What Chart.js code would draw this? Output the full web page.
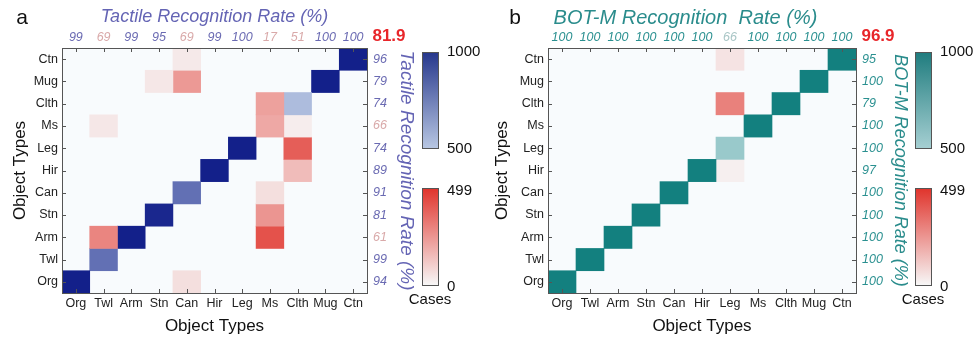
<!DOCTYPE html>
<html><head><meta charset="utf-8">
<script src="https://cdn.jsdelivr.net/npm/chart.js@4"></script>
<style>
body{margin:0;background:#fff;width:976px;height:339px;overflow:hidden;position:relative}
canvas{position:absolute;top:0}
#c1{left:0}#c2{left:486px}
</style></head><body>
<canvas id="c1" width="488" height="339"></canvas>
<canvas id="c2" width="490" height="339"></canvas>
<script>
// categories (bottom -> top on the y axis, left -> right on the x axis)
const objectTypes = ['Org','Twl','Arm','Stn','Can','Hir','Leg','Ms','Clth','Mug','Ctn'];
// per-row (right axis) and per-column (top axis) recognition rates
const tactileRowRates = [94,99,61,81,91,89,74,66,74,79,96];
const tactileColRates = [99,69,99,95,69,99,100,17,51,100,100];
const tactileOverall = '81.9';
const botRowRates = [100,100,100,100,100,97,100,100,79,100,95];
const botColRates = [100,100,100,100,100,100,66,100,100,100,100];
const botOverall = '96.9';
// confusion counts: rows = true type (Org..Ctn), columns = predicted type (Org..Ctn)
const tactileCounts = [
  [1000,0,0,0,60,0,0,0,0,0,0],      // Org
  [0,760,0,0,0,0,0,0,0,0,0],        // Twl
  [0,290,1000,0,0,0,0,420,0,0,0],   // Arm
  [0,0,0,980,0,0,0,250,0,0,0],      // Stn
  [0,0,0,0,760,0,0,60,0,0,0],       // Can
  [0,0,0,0,0,1000,0,0,150,0,0],     // Hir
  [0,0,0,0,0,0,1000,0,390,0,0],     // Leg
  [0,40,0,0,0,0,0,200,25,0,0],      // Ms
  [0,0,0,0,0,0,0,220,530,0,0],      // Clth
  [0,0,0,40,240,0,0,0,0,1000,0],    // Mug
  [0,0,0,0,35,0,0,0,0,0,1000]       // Ctn
];
const botCounts = [
  [1000,0,0,0,0,0,0,0,0,0,0],       // Org
  [0,1000,0,0,0,0,0,0,0,0,0],       // Twl
  [0,0,1000,0,0,0,0,0,0,0,0],       // Arm
  [0,0,0,1000,0,0,0,0,0,0,0],       // Stn
  [0,0,0,0,1000,0,0,0,0,0,0],       // Can
  [0,0,0,0,0,1000,20,0,0,0,0],      // Hir
  [0,0,0,0,0,0,540,0,0,0,0],        // Leg
  [0,0,0,0,0,0,0,1000,0,0,0],       // Ms
  [0,0,0,0,0,0,300,0,1000,0,0],     // Clth
  [0,0,0,0,0,0,0,0,0,1000,0],       // Mug
  [0,0,0,0,0,0,50,0,0,0,1000]       // Ctn
];

Chart.defaults.font.family = '"Liberation Sans", Arial, sans-serif';
Chart.defaults.color = '#222';

function hex(h){return [parseInt(h.substr(1,2),16),parseInt(h.substr(3,2),16),parseInt(h.substr(5,2),16)];}
function mix(a,b,t){const A=hex(a),B=hex(b);return 'rgb('+A.map((v,i)=>Math.round(v+(B[i]-v)*t)).join(',')+')';}
const RED_LO='#f7f7f7', RED_HI='#e0332b';

function makeChart(id, cfg){
  const colorFor = v => v>=500 ? mix(cfg.hiLo,cfg.hiHi,(v-500)/500) : mix(RED_LO,RED_HI,v/499);
  const datasets = objectTypes.map((col,c)=>({
    label: col,
    data: cfg.counts.map(row => row[c]>0 ? [c,c+1] : null),
    backgroundColor: cfg.counts.map(row => colorFor(row[c])),
    borderWidth: 0, grouped: false, barPercentage: 1, categoryPercentage: 1,
    xAxisID: 'x', yAxisID: 'y'
  }));
  const deco = {
    id: 'deco',
    beforeDatasetsDraw(chart){
      const {ctx, chartArea:a} = chart;
      ctx.save(); ctx.fillStyle='#f8fbfd'; ctx.fillRect(a.left,a.top,a.right-a.left,a.bottom-a.top); ctx.restore();
    },
    afterDraw(chart){
      const {ctx, chartArea:a, scales} = chart;
      ctx.save();
      ctx.strokeStyle='#555'; ctx.lineWidth=1;
      ctx.beginPath();
      objectTypes.forEach((_,i)=>{
        const px=Math.round(scales.x.getPixelForValue(i+0.5))+0.5;
        ctx.moveTo(px,a.bottom); ctx.lineTo(px,a.bottom-4);
        ctx.moveTo(px,a.top); ctx.lineTo(px,a.top+4);
        const py=Math.round(scales.y.getPixelForValue(i))+0.5;
        ctx.moveTo(a.left,py); ctx.lineTo(a.left+4,py);
        ctx.moveTo(a.right,py); ctx.lineTo(a.right-4,py);
      });
      ctx.stroke();
      ctx.strokeRect(Math.round(a.left)+0.5,Math.round(a.top)+0.5,Math.round(a.right-a.left),Math.round(a.bottom-a.top));
      // colour bars
      const bx=cfg.barX, bw=16;
      let g=ctx.createLinearGradient(0,52,0,148);
      g.addColorStop(0,cfg.barHi); g.addColorStop(1,cfg.hiLo);
      ctx.fillStyle=g; ctx.fillRect(bx,52,bw,96);
      g=ctx.createLinearGradient(0,188,0,285);
      g.addColorStop(0,RED_HI); g.addColorStop(1,RED_LO);
      ctx.fillStyle=g; ctx.fillRect(bx,188,bw,97);
      ctx.strokeStyle='#555';
      ctx.strokeRect(bx+0.5,52.5,bw,96); ctx.strokeRect(bx+0.5,188.5,bw,97);
      ctx.fillStyle='#111'; ctx.font='15px "Liberation Sans", Arial'; ctx.textBaseline='middle'; ctx.textAlign='left';
      ctx.fillText('1000',bx+25,52); ctx.fillText('500',bx+25,149);
      ctx.fillText('499',bx+25,191); ctx.fillText('0',bx+25,287);
      ctx.textAlign='center'; ctx.fillText('Cases',bx+8,300);
      // panel letter and overall rate
      ctx.font='21px "Liberation Sans", Arial'; ctx.fillStyle='#111';
      ctx.fillText(cfg.letter,cfg.letterX,18);
      ctx.font='bold 17px "Liberation Sans", Arial'; ctx.fillStyle='#e8262a';
      ctx.fillText(cfg.overall,a.right+22,36);
      ctx.restore();
    }
  };
  const noGrid = {display:false, drawTicks:false};
  return new Chart(document.getElementById(id), {
    type:'bar',
    data:{labels:objectTypes, datasets},
    options:{
      indexAxis:'y', responsive:false, animation:false,
      layout:{padding:{left:0,top:0,bottom:0,right:cfg.padRight}},
      plugins:{legend:{display:false}, tooltip:{enabled:false}},
      scales:{
        x:{type:'linear',position:'bottom',min:0,max:11,
          grid:noGrid,border:{display:false},
          afterBuildTicks:s=>{s.ticks=objectTypes.map((_,i)=>({value:i+0.5}));},
          afterFit:s=>{s.height=46;},
          ticks:{autoSkip:false,maxRotation:0,padding:3,font:{size:12.5},color:'#222',callback:v=>objectTypes[Math.floor(v)]},
          title:{display:true,text:'Object Types',font:{size:17},color:'#111',padding:{top:0,bottom:2}}},
        x2:{type:'linear',axis:'x',position:'top',min:0,max:11,
          grid:noGrid,border:{display:false},
          afterBuildTicks:s=>{s.ticks=objectTypes.map((_,i)=>({value:i+0.5}));},
          afterFit:s=>{s.height=48;},
          ticks:{autoSkip:false,maxRotation:0,padding:3,font:{size:12.5,style:'italic'},
            color:c=>cfg.colRates[c.index]<70?cfg.lowColor:cfg.rateColor,
            callback:v=>cfg.colRates[Math.floor(v)]},
          title:{display:true,text:cfg.topTitle,align:cfg.topAlign,font:{size:cfg.topSize,style:'italic'},color:cfg.titleColor,padding:{top:6,bottom:0}}},
        y:{type:'category',position:'left',reverse:true,offset:true,
          grid:noGrid,border:{display:false},
          afterFit:s=>{s.width=62;},
          ticks:{padding:4,font:{size:12.5},color:'#222'},
          title:{display:true,text:'Object Types',font:{size:17},color:'#111',padding:{top:cfg.yTitlePad,bottom:0}}},
        y2:{type:'category',axis:'y',position:'right',reverse:true,offset:true,labels:objectTypes,
          grid:noGrid,border:{display:false},
          afterFit:s=>{s.width=cfg.y2Width;},
          ticks:{padding:6,font:{size:12.5,style:'italic'},
            color:c=>cfg.rowRates[c.index]<70?cfg.lowColor:cfg.rateColor,
            callback:(v,i)=>cfg.rowRates[i]},
          title:{display:true,text:cfg.title,font:{size:cfg.rightSize,style:'italic'},color:cfg.titleColor,padding:{top:4,bottom:0}}}
      }
    },
    plugins:[deco]
  });
}

makeChart('c1',{counts:tactileCounts,rowRates:tactileRowRates,colRates:tactileColRates,overall:tactileOverall,
  title:'Tactile Recognition Rate (%)',topTitle:'Tactile Recognition Rate (%)',topAlign:'center',topSize:18,rightSize:19,
  titleColor:'#6464b4',rateColor:'#6a6ab2',lowColor:'#d9a9a9',
  hiLo:'#b7c6e2',hiHi:'#13208a',barHi:'#26378c',barX:422,padRight:66,y2Width:55,yTitlePad:10,
  letter:'a',letterX:22});
makeChart('c2',{counts:botCounts,rowRates:botRowRates,colRates:botColRates,overall:botOverall,
  title:'BOT-M Recognition Rate (%)',topTitle:' BOT-M Recognition  Rate (%)',topAlign:'start',topSize:20,rightSize:18,
  titleColor:'#2a8c8c',rateColor:'#2a9090',lowColor:'#a9c6c6',
  hiLo:'#a5cfd2',hiHi:'#13807f',barHi:'#1f7c7e',barX:429,padRight:61,y2Width:59,yTitlePad:6,
  letter:'b',letterX:29});
</script>
</body></html>
